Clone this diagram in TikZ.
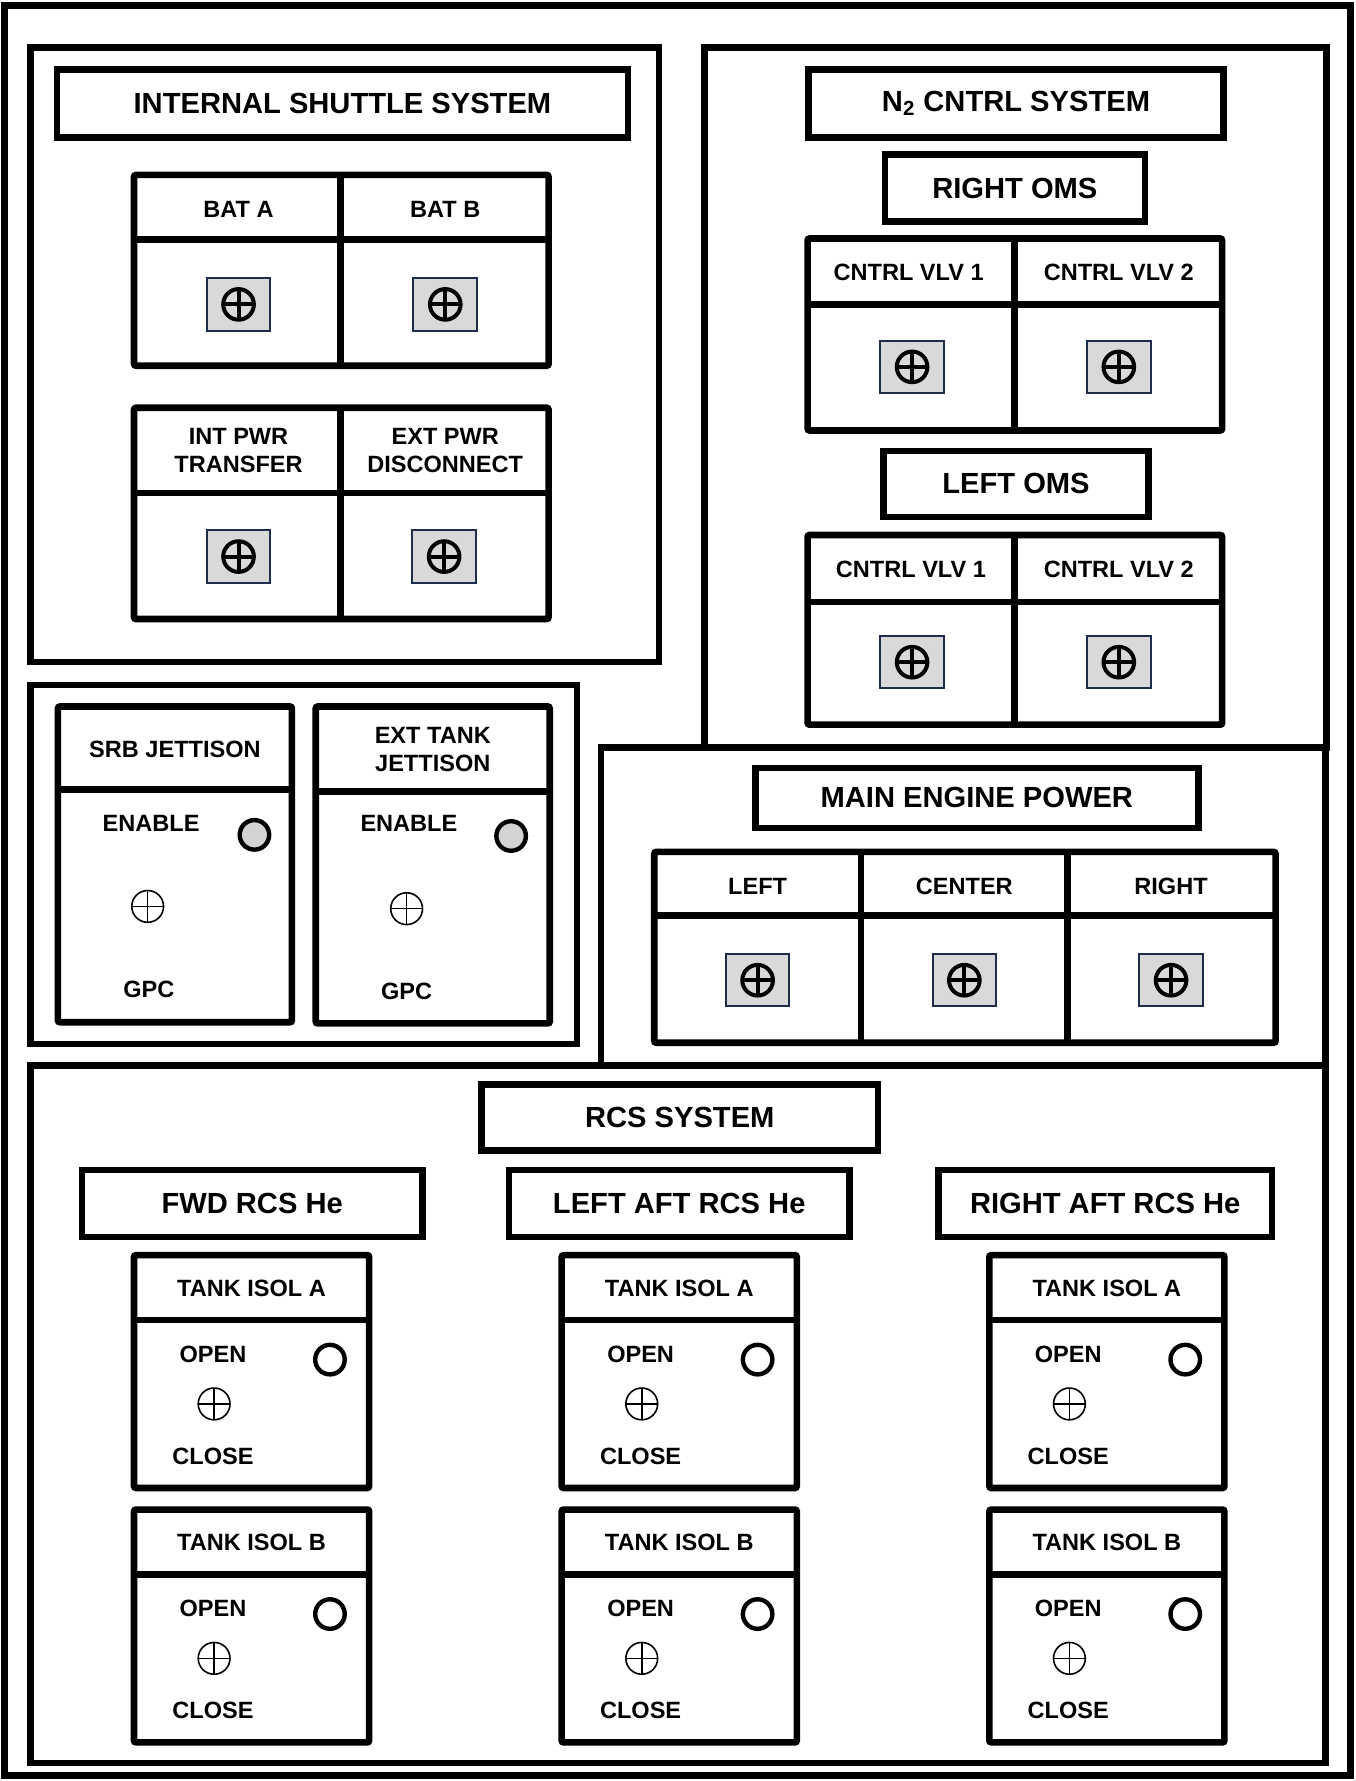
\documentclass[tikz,border=0pt]{standalone}
\usepackage{fontspec}
\setmainfont{Liberation Sans}
\usetikzlibrary{positioning}
\definecolor{SwFill}{RGB}{217,217,217}
\definecolor{SwEdge}{RGB}{31,45,77}
\definecolor{LampFill}{RGB}{211,211,211}

\begin{document}
\begin{tikzpicture}[x=0.02cm,y=-0.02cm,
frame/.style={draw,line width=3.3pt},
panel/.style={draw,line width=3.3pt,rounded corners=1pt},
titlebox/.style={rectangle,draw,line width=3.3pt,inner sep=0pt,font=\fontsize{14.6}{17}\selectfont\bfseries},
lbl/.style={inner sep=0pt,align=center,font=\fontsize{11.8}{14}\selectfont\bfseries},
swbox/.style={rectangle,draw=SwEdge,fill=SwFill,line width=1pt,minimum width=1.12cm,minimum height=0.92cm},
knob/.style={circle,draw,inner sep=0pt,minimum size=0.54cm,line width=2pt,
  path picture={\draw[line width=2pt] (path picture bounding box.north)--(path picture bounding box.south)
  (path picture bounding box.west)--(path picture bounding box.east);}},
thinknob/.style={knob,line width=0.8pt,minimum size=0.56cm,
  path picture={\draw[line width=0.8pt] (path picture bounding box.north)--(path picture bounding box.south)
  (path picture bounding box.west)--(path picture bounding box.east);}},
lamp/.style={circle,draw,line width=2.2pt,inner sep=0pt,minimum size=0.52cm}
]
\useasboundingbox (0,0) rectangle (1193,1568);
\draw[frame] (4,5) rectangle (1189,1563);

% internal shuttle system
\draw[frame] (27,42) rectangle (580,583);
\node[titlebox,minimum width=10.06cm,minimum height=1.2cm] (iss) at (301.5,91) {INTERNAL SHUTTLE SYSTEM};
\draw[panel] (118,154) rectangle (483,322);
\draw[panel] (300,154)--(300,322) (118,211)--(483,211);
\node[lbl] (bata) at (210,184) {BAT A};
\node[lbl] (batb) at (392,184) {BAT B};
\node[swbox] (bataSw) at (210,268) {}; \node[knob] at (bataSw) {};
\node[swbox] (batbSw) at (392,268) {}; \node[knob] at (batbSw) {};
\draw[panel] (118,359) rectangle (483,545);
\draw[panel] (300,359)--(300,545) (118,434)--(483,434);
\node[lbl] (intpwr) at (210,397) {INT PWR\\TRANSFER};
\node[lbl] (extpwr) at (392,397) {EXT PWR\\DISCONNECT};
\node[swbox] (intpwrSw) at (210,490) {}; \node[knob] at (intpwrSw) {};
\node[swbox] (extpwrSw) at (391,490) {}; \node[knob] at (extpwrSw) {};

% N2 control system
\draw[frame] (620,42) rectangle (1168,658);
\node[titlebox,minimum width=7.3cm,minimum height=1.2cm] (n2) at (894.5,91) {N\textsubscript{2} CNTRL SYSTEM};
\node[titlebox,minimum width=4.58cm,minimum height=1.18cm] (roms) at (893.5,165.5) {RIGHT OMS};
\draw[panel] (711,210) rectangle (1076,379);
\draw[panel] (893,210)--(893,379) (711,268)--(1076,268);
\node[lbl] (romsA) at (800,240) {CNTRL VLV 1};
\node[lbl] (romsB) at (985,240) {CNTRL VLV 2};
\node[swbox] (romsASw) at (803,323) {}; \node[knob] at (romsASw) {};
\node[swbox] (romsBSw) at (985,323) {}; \node[knob] at (romsBSw) {};
\node[titlebox,minimum width=4.66cm,minimum height=1.16cm] (loms) at (894.5,426) {LEFT OMS};
\draw[panel] (711,471) rectangle (1076,638);
\draw[panel] (893,471)--(893,638) (711,530)--(1076,530);
\node[lbl] (lomsA) at (802,501) {CNTRL VLV 1};
\node[lbl] (lomsB) at (985,501) {CNTRL VLV 2};
\node[swbox] (lomsASw) at (803,583) {}; \node[knob] at (lomsASw) {};
\node[swbox] (lomsBSw) at (985,583) {}; \node[knob] at (lomsBSw) {};

% jettison
\draw[frame] (27,603) rectangle (508,919);
\draw[panel] (51,622) rectangle (257,900);
\draw[panel] (51,695)--(257,695);
\node[lbl] (srb) at (154,660) {SRB JETTISON};
\node[lbl] (srbEn) at (133,725) {ENABLE};
\node[lamp,fill=LampFill] (srbLamp) at (224,735) {};
\node[thinknob] (srbSw) at (130,798) {};
\node[lbl] (srbGpc) at (131,871) {GPC};
\draw[panel] (278,622) rectangle (484,901);
\draw[panel] (278,697)--(484,697);
\node[lbl] (et) at (381,660) {EXT TANK\\JETTISON};
\node[lbl] (etEn) at (360,725) {ENABLE};
\node[lamp,fill=LampFill] (etLamp) at (450,736) {};
\node[thinknob] (etSw) at (358,800) {};
\node[lbl] (etGpc) at (358,873) {GPC};

% main engine power
\draw[frame] (529,658) rectangle (1167,938);
\node[titlebox,minimum width=7.8cm,minimum height=1.06cm] (mep) at (860,702.5) {MAIN ENGINE POWER};
\draw[panel] (576,750) rectangle (1123,918);
\draw[panel] (758,750)--(758,918) (940,750)--(940,918) (576,806)--(1123,806);
\foreach \cx/\nm/\txt in {667/left/LEFT,849/center/CENTER,1031/right/RIGHT}{
  \node[lbl] (\nm) at (\cx,780) {\txt};
  \node[swbox] (\nm Sw) at (\cx,863) {}; \node[knob] at (\nm Sw) {};
}

% RCS system
\draw[frame] (27,938) rectangle (1167,1552);
\node[titlebox,minimum width=6.98cm,minimum height=1.16cm] (rcs) at (598.5,984) {RCS SYSTEM};
\node[titlebox,minimum width=6cm,minimum height=1.18cm] (fwd) at (222,1059.5) {FWD RCS He};
\node[titlebox,minimum width=6cm,minimum height=1.18cm] (laft) at (598,1059.5) {LEFT AFT RCS He};
\node[titlebox,minimum width=5.88cm,minimum height=1.18cm] (raft) at (973,1059.5) {RIGHT AFT RCS He};
\foreach \cx/\col in {221.5/fwd,598/laft,974.5/raft}{
  \foreach \top/\row in {1105/A,1329/B}{
    \draw[panel] (\cx-103.5,\top) rectangle (\cx+103.5,\top+205);
    \draw[panel] (\cx-103.5,\top+57)--(\cx+103.5,\top+57);
    \node[lbl] (\col\row) at (\cx,\top+29) {TANK ISOL \row};
    \node[lbl] (\col\row open) at (\cx-34,\top+87) {OPEN};
    \node[lamp] (\col\row lamp) at (\cx+69,\top+92) {};
    \node[thinknob] (\col\row sw) at (\cx-33,\top+131) {};
    \node[lbl] (\col\row close) at (\cx-34,\top+177) {CLOSE};
  }
}
\end{tikzpicture}
\end{document}
